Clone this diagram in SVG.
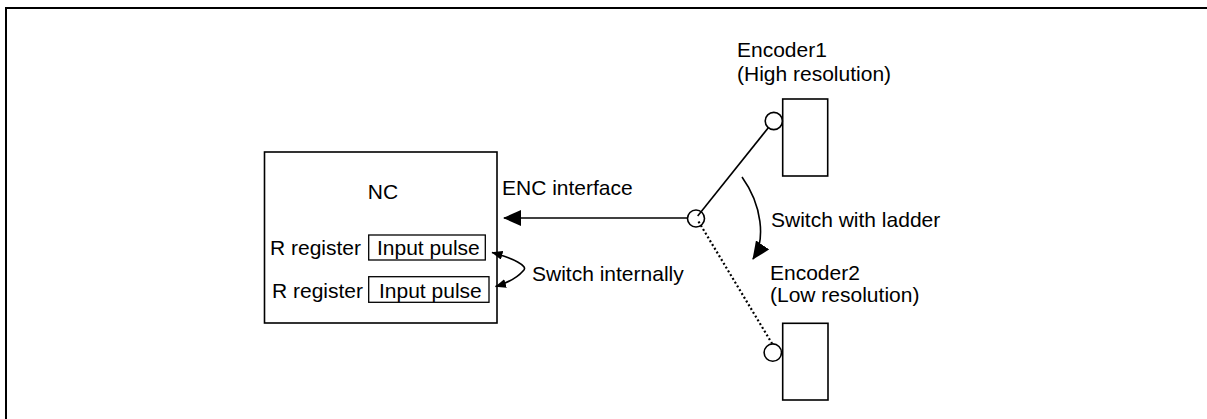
<svg xmlns="http://www.w3.org/2000/svg" width="1207" height="419" viewBox="0 0 1207 419">
<style>
text{font-family:"Liberation Sans",Arial,sans-serif;font-size:21px;fill:#000}
.box{fill:none;stroke:#000;stroke-width:1.6}
.sub{fill:none;stroke:#000;stroke-width:1.3}
.ln{fill:none;stroke:#000;stroke-width:1.6}
.dot{fill:none;stroke:#000;stroke-width:2.2;stroke-dasharray:2 2.4}
.pin{fill:#fff;stroke:#000;stroke-width:1.6}
</style>
<defs>
<marker id="big" viewBox="0 0 18 16" refX="17" refY="8" markerWidth="18" markerHeight="16" markerUnits="userSpaceOnUse" orient="auto-start-reverse"><path d="M0,0 L18,8 L0,16 Z" fill="#000"/></marker>
<marker id="small" viewBox="0 0 11 9" refX="10.5" refY="4.5" markerWidth="11" markerHeight="9" markerUnits="userSpaceOnUse" orient="auto-start-reverse"><path d="M0,0 L11,4.5 L0,9 Z" fill="#000"/></marker>
</defs>
<path d="M6,420 V8 H1208" fill="none" stroke="#000" stroke-width="2"/>
<g id="nc">
<rect class="box" x="264.5" y="152" width="232.5" height="171"/>
<text x="383" y="199" text-anchor="middle">NC</text>
<text x="270" y="255">R register</text>
<rect class="sub" x="368.7" y="235" width="116.6" height="25"/>
<text x="377" y="255">Input pulse</text>
<text x="272" y="298">R register</text>
<rect class="sub" x="368.7" y="276.7" width="120.3" height="25.6"/>
<text x="379" y="298">Input pulse</text>
</g>
<g id="junction">
<circle class="ln" cx="696" cy="218.5" r="8.5"/>
</g>
<g id="encoder1">
<rect class="box" x="782.7" y="99" width="45" height="77"/>
<circle class="pin" cx="773.8" cy="121" r="8.6"/>
<text x="737" y="57">Encoder1</text>
<text x="737" y="81">(High resolution)</text>
</g>
<g id="encoder2">
<rect class="box" x="782.7" y="323.3" width="45.3" height="76.7"/>
<circle class="pin" cx="772.8" cy="352.6" r="8.7"/>
<text x="770" y="280">Encoder2</text>
<text x="770" y="302">(Low resolution)</text>
</g>
<g id="connectors">
<line class="ln" x1="687.5" y1="218" x2="504" y2="218" marker-end="url(#big)"/>
<text x="502" y="195">ENC interface</text>
<line class="ln" x1="697.7" y1="216" x2="768.5" y2="127.5"/>
<line class="dot" x1="698.5" y1="221.5" x2="772" y2="343.5"/>
<path class="ln" d="M742,177 C762,205 766,240 753,259" marker-end="url(#big)"/>
<text x="771" y="227">Switch with ladder</text>
<path class="ln" d="M492,252.5 C512,258 530,266 523,271 C517,278 507,283 495.5,286.5" marker-start="url(#small)" marker-end="url(#small)"/>
<text x="532" y="281">Switch internally</text>
</g>
</svg>
